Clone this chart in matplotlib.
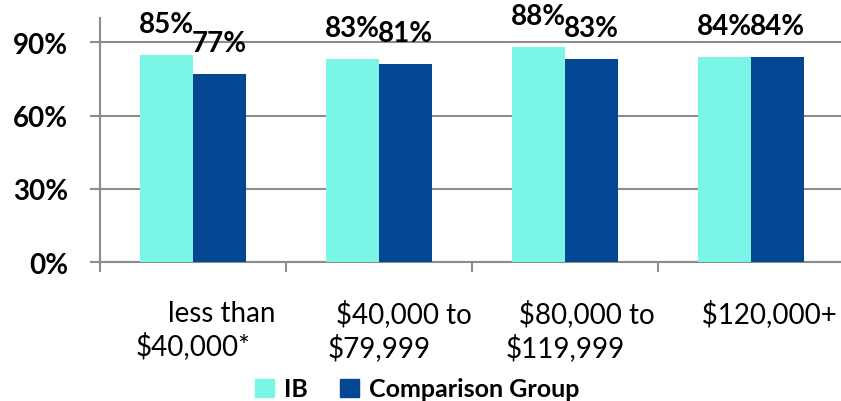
import numpy as np
import matplotlib
matplotlib.use("Agg")
import matplotlib.pyplot as plt
from matplotlib.patches import Patch

plt.rcParams['font.family'] = ['Lato', 'DejaVu Sans']

# datos
categorias = ["        less than\n$40,000*", "       $40,000 to\n$79,999",
              "      $80,000 to\n$119,999", "     $120,000+\n"]
ib = [0.85, 0.83, 0.88, 0.84]
comparacion = [0.77, 0.81, 0.83, 0.84]
series = ["IB", "Comparison Group"]

c_ib = '#7BF5E6'
c_comp = '#034793'
gris = '#8C8C8C'

fig = plt.figure(figsize=(8.41, 4.02), dpi=100)
ax = fig.add_axes([100/841, 139/402, 744/841, 244/402])

x = np.arange(len(categorias))
ancho = 0.285
b1 = ax.bar(x - ancho/2, ib, ancho, color=c_ib, zorder=3)
b2 = ax.bar(x + ancho/2, comparacion, ancho, color=c_comp, zorder=3)

for barras in (b1, b2):
    for b in barras:
        ax.annotate("%d%%" % round(b.get_height()*100),
                    (b.get_x() + b.get_width()/2, b.get_height()),
                    xytext=(0, 13), textcoords='offset points',
                    ha='center', va='bottom', fontsize=20, fontweight='bold')

ax.set_ylim(0, 1.0)
ax.set_xlim(-0.5, len(categorias) - 0.5)
ax.set_yticks([0, 0.3, 0.6, 0.9])
ax.set_yticklabels(["0%", "30%", "60%", "90%"], fontsize=20, fontweight='bold')
ax.yaxis.grid(True, color=gris, lw=1.5, zorder=0)

ax.set_xticks(x)
ax.set_xticklabels(categorias, fontsize=20, multialignment='center', linespacing=1.25)
ax.set_xticks(np.arange(-0.5, len(categorias)), minor=True)
ax.tick_params(axis='x', which='major', length=0, pad=27)
ax.tick_params(axis='x', which='minor', length=7, width=1.5, color=gris, direction='out')
ax.tick_params(axis='y', length=7, width=1.5, color=gris, pad=16)

for s in ['top', 'right']:
    ax.spines[s].set_visible(False)
for s in ['left', 'bottom']:
    ax.spines[s].set_color(gris)
    ax.spines[s].set_linewidth(1.5)

handles = [Patch(color=c_ib, label=series[0]), Patch(color=c_comp, label=series[1])]
leg = fig.legend(handles=handles, loc='center', bbox_to_anchor=(417/841, 1 - 390/402),
                 ncol=2, frameon=False, prop={'size': 18, 'weight': 'bold'},
                 handlelength=0.75, handleheight=0.75, handletextpad=0.4,
                 columnspacing=1.3, borderpad=0)

fig.savefig("out.png", dpi=100)
